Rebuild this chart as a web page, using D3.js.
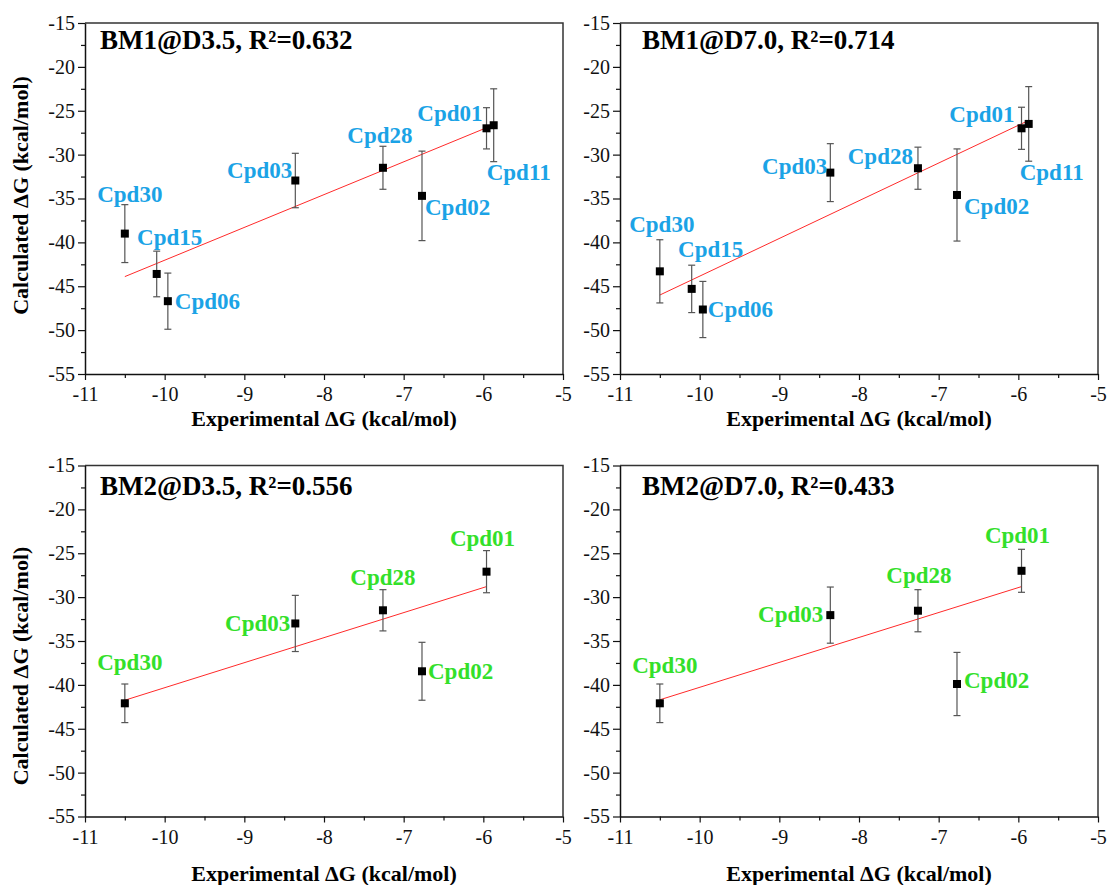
<!DOCTYPE html>
<html>
<head>
<meta charset="utf-8">
<script src="https://cdn.jsdelivr.net/npm/d3@7"></script>
<style>
  body { margin: 0; background: #fff; }
</style>
</head>
<body>
<svg id="chart"></svg>
<script>
// data
const xTicks = [-11, -10, -9, -8, -7, -6, -5];
const yTicks = [-15, -20, -25, -30, -35, -40, -45, -50, -55];

const bm1Compounds = ['Cpd30', 'Cpd15', 'Cpd06', 'Cpd03', 'Cpd28', 'Cpd02', 'Cpd01', 'Cpd11'];
const bm1Experimental = [-10.5, -10.1, -9.96, -8.36, -7.26, -6.77, -5.96, -5.87];
const bm1D35 = [-39.0, -43.6, -46.7, -32.95, -31.5, -34.7, -27.0, -26.65];
const bm1D35Err = [3.3, 2.6, 3.2, 3.1, 2.45, 5.1, 2.35, 4.15];
const bm1D70 = [-43.3, -45.3, -47.65, -32.05, -31.55, -34.6, -27.0, -26.5];
const bm1D70Err = [3.6, 2.7, 3.2, 3.3, 2.4, 5.25, 2.4, 4.25];

const bm2Compounds = ['Cpd30', 'Cpd03', 'Cpd28', 'Cpd02', 'Cpd01'];
const bm2Experimental = [-10.5, -8.36, -7.26, -6.77, -5.96];
const bm2D35 = [-42.1, -33.0, -31.5, -38.45, -27.1];
const bm2D35Err = [2.2, 3.2, 2.35, 3.3, 2.4];
const bm2D70 = [-42.1, -32.05, -31.55, -39.9, -27.0];
const bm2D70Err = [2.2, 3.2, 2.4, 3.6, 2.45];

// linear fit end points (x, y)
const fitBm1D35 = [[-10.5, -43.9], [-5.87, -26.6]];
const fitBm1D70 = [[-10.5, -46.0], [-5.87, -26.1]];
const fitBm2D35 = [[-10.5, -41.75], [-5.96, -28.8]];
const fitBm2D70 = [[-10.5, -41.7], [-5.96, -28.8]];

const titles = ['BM1@D3.5, R\u00b2=0.632', 'BM1@D7.0, R\u00b2=0.714', 'BM2@D3.5, R\u00b2=0.556', 'BM2@D7.0, R\u00b2=0.433'];

const cyan = '#1ba3e6';
const green = '#33e02a';
const serif = 'Liberation Serif';

// label placement: [dx, dy, anchor] relative to the point
const labels1 = {
  Cpd30: [5, -32, 'middle'], Cpd15: [13, -29, 'middle'], Cpd06: [7, 8, 'start'],
  Cpd03: [-3, -3, 'end'], Cpd28: [-3, -25, 'middle'], Cpd02: [3, 19, 'start'],
  Cpd01: [-4, -7, 'end'], Cpd11: [25, 55, 'middle']
};
const labels2 = {
  Cpd30: [2, -39, 'middle'], Cpd15: [19, -32, 'middle'], Cpd06: [5, 7, 'start'],
  Cpd03: [-3, 1, 'end'], Cpd28: [-5, -4, 'end'], Cpd02: [7, 19, 'start'],
  Cpd01: [-7, -6, 'end'], Cpd11: [23, 56, 'middle']
};
const labels3 = {
  Cpd30: [5, -33, 'middle'], Cpd03: [-5, 8, 'end'], Cpd28: [0, -25, 'middle'],
  Cpd02: [6, 8, 'start'], Cpd01: [-4, -26, 'middle']
};
const labels4 = {
  Cpd30: [5, -30, 'middle'], Cpd03: [-7, 7, 'end'], Cpd28: [1, -28, 'middle'],
  Cpd02: [7, 4, 'start'], Cpd01: [-4, -28, 'middle']
};

const panels = [
  { left: 85, top: 23, title: titles[0], titleDx: 15, titleDy: 26, names: bm1Compounds, xs: bm1Experimental,
    ys: bm1D35, errs: bm1D35Err, fit: fitBm1D35, color: cyan, labels: labels1, yTitle: true, yTitleDy: -3, xTitleDy: 52 },
  { left: 620, top: 23, title: titles[1], titleDx: 22, titleDy: 26, names: bm1Compounds, xs: bm1Experimental,
    ys: bm1D70, errs: bm1D70Err, fit: fitBm1D70, color: cyan, labels: labels2, yTitle: false, xTitleDy: 52 },
  { left: 85, top: 465.5, title: titles[2], titleDx: 15, titleDy: 29, names: bm2Compounds, xs: bm2Experimental,
    ys: bm2D35, errs: bm2D35Err, fit: fitBm2D35, color: green, labels: labels3, yTitle: true, yTitleDy: 25, xTitleDy: 64 },
  { left: 620, top: 465.5, title: titles[3], titleDx: 22, titleDy: 29, names: bm2Compounds, xs: bm2Experimental,
    ys: bm2D70, errs: bm2D70Err, fit: fitBm2D70, color: green, labels: labels4, yTitle: false, xTitleDy: 64 }
];

const width = 1111;
const height = 885;
const plotW = 478;
const plotH = 351;

const svg = d3.select('#chart')
  .attr('width', width)
  .attr('height', height)
  .style('font-family', serif);

svg.append('rect').attr('width', width).attr('height', height).attr('fill', '#fff');

const fmt = d => String(d);

panels.forEach(p => {
  const g = svg.append('g').attr('transform', `translate(${p.left},${p.top})`);

  const x = d3.scaleLinear().domain([-11, -5]).range([0, plotW]);
  const y = d3.scaleLinear().domain([-55, -15]).range([plotH, 0]);

  // frame (top and right)
  g.append('path')
    .attr('d', `M0,0H${plotW}V${plotH}`)
    .attr('fill', 'none')
    .attr('stroke', '#333')
    .attr('stroke-width', 1.5);

  // minor ticks
  g.append('g')
    .attr('transform', `translate(0,${plotH})`)
    .call(d3.axisBottom(x).tickValues(d3.range(-10.5, -5, 1)).tickSize(4).tickFormat(''))
    .call(a => a.select('.domain').remove());
  g.append('g')
    .call(d3.axisLeft(y).tickValues(d3.range(-52.5, -15, 5)).tickSize(4).tickFormat(''))
    .call(a => a.select('.domain').remove());

  // major axes
  const xa = g.append('g')
    .attr('transform', `translate(0,${plotH})`)
    .call(d3.axisBottom(x).tickValues(xTicks).tickSize(6).tickSizeOuter(0).tickPadding(7).tickFormat(fmt));
  const ya = g.append('g')
    .call(d3.axisLeft(y).tickValues(yTicks).tickSize(7).tickSizeOuter(0).tickPadding(3).tickFormat(fmt));

  [xa, ya].forEach(a => {
    a.attr('font-family', null).attr('font-size', 20);
    a.select('.domain').attr('stroke', '#111').attr('stroke-width', 1.5);
    a.selectAll('text').attr('fill', '#111').style('font-family', serif);
  });
  g.selectAll('.tick line').attr('stroke', '#111').attr('stroke-width', 1.2);

  // fit line
  g.append('line')
    .attr('x1', x(p.fit[0][0])).attr('y1', y(p.fit[0][1]))
    .attr('x2', x(p.fit[1][0])).attr('y2', y(p.fit[1][1]))
    .attr('stroke', '#ff2a2a')
    .attr('stroke-width', 1);

  const pts = p.names.map((n, i) => ({ name: n, x: p.xs[i], y: p.ys[i], e: p.errs[i] }));

  // error bars
  const eb = g.selectAll('.err').data(pts).enter().append('g')
    .attr('stroke', '#555').attr('stroke-width', 1.2);
  eb.append('line')
    .attr('x1', d => x(d.x)).attr('x2', d => x(d.x))
    .attr('y1', d => y(d.y + d.e)).attr('y2', d => y(d.y - d.e));
  eb.append('line')
    .attr('x1', d => x(d.x) - 3.5).attr('x2', d => x(d.x) + 3.5)
    .attr('y1', d => y(d.y + d.e)).attr('y2', d => y(d.y + d.e));
  eb.append('line')
    .attr('x1', d => x(d.x) - 3.5).attr('x2', d => x(d.x) + 3.5)
    .attr('y1', d => y(d.y - d.e)).attr('y2', d => y(d.y - d.e));

  // markers
  g.selectAll('.pt').data(pts).enter().append('rect')
    .attr('x', d => x(d.x) - 4).attr('y', d => y(d.y) - 4)
    .attr('width', 8).attr('height', 8)
    .attr('fill', '#000');

  // point labels
  g.selectAll('.lab').data(pts).enter().append('text')
    .attr('x', d => x(d.x) + p.labels[d.name][0])
    .attr('y', d => y(d.y) + p.labels[d.name][1])
    .attr('text-anchor', d => p.labels[d.name][2])
    .style('font-family', serif)
    .attr('font-size', 23)
    .attr('font-weight', 'bold')
    .attr('fill', p.color)
    .text(d => d.name);

  // panel title
  g.append('text')
    .attr('x', p.titleDx).attr('y', p.titleDy)
    .style('font-family', serif)
    .attr('font-size', 27)
    .attr('font-weight', 'bold')
    .attr('fill', '#000')
    .text(p.title);

  // axis titles
  g.append('text')
    .attr('x', plotW / 2).attr('y', plotH + p.xTitleDy)
    .attr('text-anchor', 'middle')
    .style('font-family', serif)
    .attr('font-size', 22)
    .attr('font-weight', 'bold')
    .text('Experimental \u0394G (kcal/mol)');

  if (p.yTitle) {
    g.append('text')
      .attr('transform', `translate(${-p.left + 28},${plotH / 2 + p.yTitleDy}) rotate(-90)`)
      .attr('text-anchor', 'middle')
      .style('font-family', serif)
      .attr('font-size', 22)
      .attr('font-weight', 'bold')
      .text('Calculated \u0394G (kcal/mol)');
  }
});
</script>
</body>
</html>
